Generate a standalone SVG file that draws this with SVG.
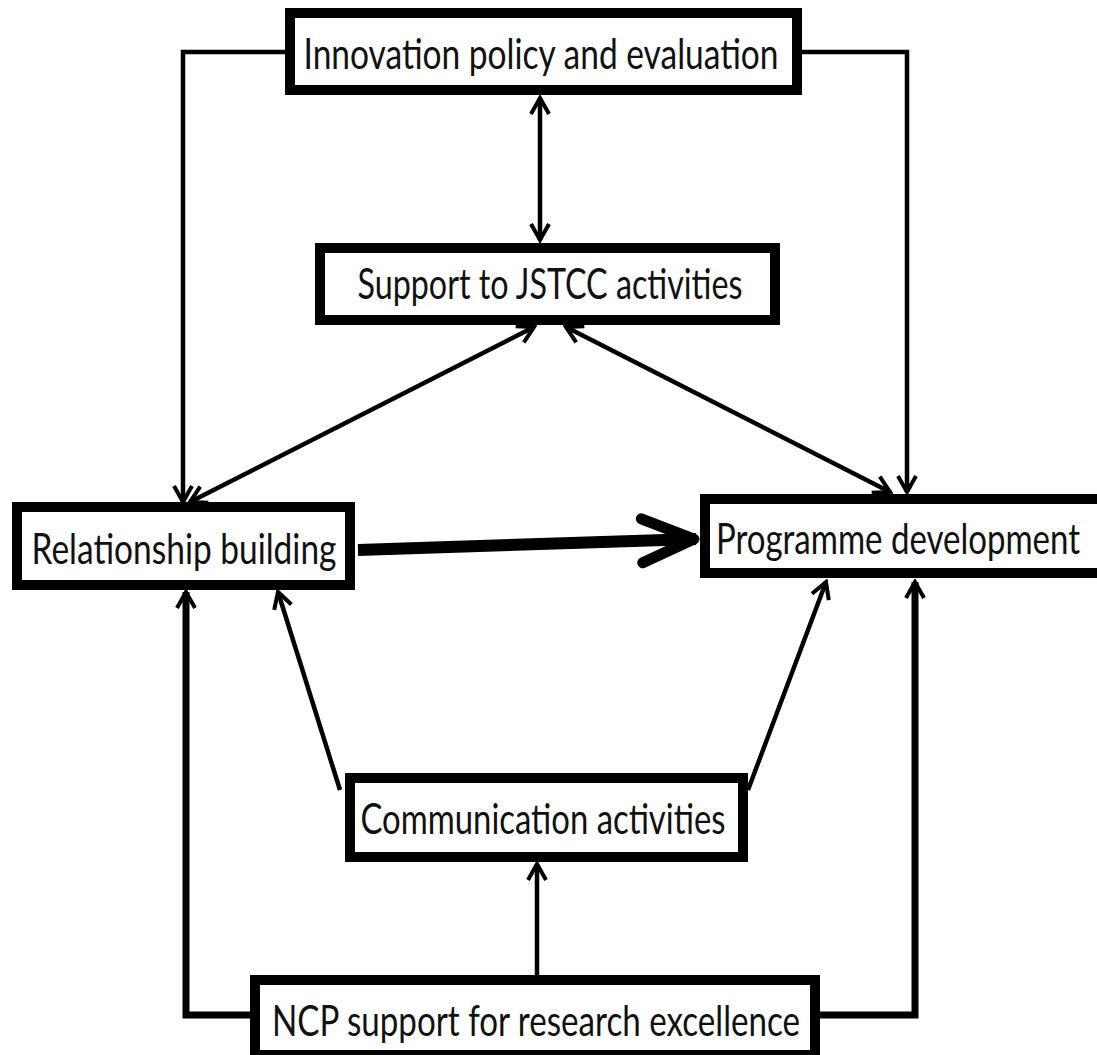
<svg xmlns="http://www.w3.org/2000/svg" width="1097" height="1055" viewBox="0 0 1097 1055">
<style>
.box{fill:#fff;stroke:#000;stroke-width:10}
.lbl{font-family:Lato,"Open Sans","Liberation Sans",sans-serif;font-size:42px;fill:#111;text-anchor:middle}
.c{fill:none;stroke:#000;stroke-width:4.5;stroke-linejoin:miter}
.t{fill:none;stroke:#000;stroke-width:7}
</style>
<defs>
<marker id="ah" viewBox="0 0 24 24" refX="21" refY="12" markerWidth="24" markerHeight="24" markerUnits="userSpaceOnUse" orient="auto-start-reverse">
<path d="M5,3 L21,12 L5,21" fill="none" stroke="#000" stroke-width="4"/>
</marker>
<marker id="big" viewBox="0 0 70 60" refX="64" refY="30" markerWidth="70" markerHeight="60" markerUnits="userSpaceOnUse" orient="auto">
<path d="M10,8 L62,30 L10,52" fill="none" stroke="#000" stroke-width="11" stroke-linecap="round" stroke-linejoin="round"/>
</marker>
</defs>
<rect width="1097" height="1055" fill="#fff"/>
<g id="connectors">
<path class="c" d="M285,52 H183 V502" marker-end="url(#ah)"/>
<path class="c" d="M802,52 H907 V492" marker-end="url(#ah)"/>
<path class="c" d="M540,98 V240" marker-start="url(#ah)" marker-end="url(#ah)"/>
<path class="c" d="M534,327 L190,502" marker-start="url(#ah)" marker-end="url(#ah)"/>
<path class="c" d="M566,327 L890,492" marker-start="url(#ah)" marker-end="url(#ah)"/>
<path d="M358,550 L696,539" fill="none" stroke="#000" stroke-width="12" marker-end="url(#big)"/>
<path class="c" d="M340,790 L278,592" marker-end="url(#ah)"/>
<path class="c" d="M748,790 L826,582" marker-end="url(#ah)"/>
<path class="c" d="M537,975 V864" marker-end="url(#ah)"/>
<path class="t" d="M250,1015 H186 V592" marker-end="url(#ah)"/>
<path class="t" d="M820,1015 H915 V582" marker-end="url(#ah)"/>
</g>
<g id="innovation">
<rect class="box" x="290" y="13" width="507" height="77"/>
<text class="lbl" x="541" y="69" textLength="475" lengthAdjust="spacingAndGlyphs">Innovation policy and evaluation</text>
</g>
<g id="jstcc">
<rect class="box" x="320" y="248" width="455" height="72"/>
<text class="lbl" x="550" y="299" textLength="385" lengthAdjust="spacingAndGlyphs">Support to JSTCC activities</text>
</g>
<g id="relationship">
<rect class="box" x="17" y="507" width="333" height="78"/>
<text class="lbl" x="184" y="564" textLength="305" lengthAdjust="spacingAndGlyphs">Relationship building</text>
</g>
<g id="programme">
<rect class="box" x="705" y="499" width="400" height="74"/>
<text class="lbl" x="0" y="0" transform="translate(898,554) scale(1,1.24)" style="font-size:34px" textLength="364" lengthAdjust="spacingAndGlyphs">Programme development</text>
</g>
<g id="communication">
<rect class="box" x="350" y="778" width="393" height="79"/>
<text class="lbl" x="543" y="834" textLength="365" lengthAdjust="spacingAndGlyphs">Communication activities</text>
</g>
<g id="ncp">
<rect class="box" x="255" y="980" width="560" height="75"/>
<text class="lbl" x="536" y="1036" textLength="528" lengthAdjust="spacingAndGlyphs">NCP support for research excellence</text>
</g>
</svg>
